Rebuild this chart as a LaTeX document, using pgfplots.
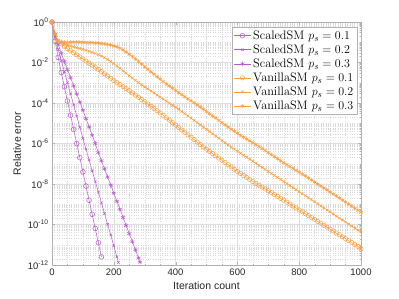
\documentclass[border=0pt]{standalone}
\usepackage{pgfplots}
\pgfplotsset{compat=1.18}
\usepackage{fontspec}
\newfontfamily\hv{Liberation Sans}
\definecolor{pur}{RGB}{185,90,205}
\definecolor{org}{RGB}{255,158,60}
\begin{document}
\begin{tikzpicture}
\begin{axis}[
  scale only axis, width=309pt, height=243pt,
  xmin=0, xmax=1000, ymin=1e-12, ymax=1,
  ymode=log,
  xtick={0,200,400,600,800,1000},
  minor x tick num=3,
  ytick={1e-12,1e-10,1e-8,1e-6,1e-4,1e-2,1},
  yticklabels={{\hv 10\textsuperscript{-12}},{\hv 10\textsuperscript{-10}},{\hv 10\textsuperscript{-8}},{\hv 10\textsuperscript{-6}},{\hv 10\textsuperscript{-4}},{\hv 10\textsuperscript{-2}},{\hv 10\textsuperscript{0}}},
  minor ytick={2e-12,3e-12,4e-12,5e-12,6e-12,7e-12,8e-12,9e-12,1e-11,2e-11,3e-11,4e-11,5e-11,6e-11,7e-11,8e-11,9e-11,
    2e-10,3e-10,4e-10,5e-10,6e-10,7e-10,8e-10,9e-10,1e-9,2e-9,3e-9,4e-9,5e-9,6e-9,7e-9,8e-9,9e-9,
    2e-8,3e-8,4e-8,5e-8,6e-8,7e-8,8e-8,9e-8,1e-7,2e-7,3e-7,4e-7,5e-7,6e-7,7e-7,8e-7,9e-7,
    2e-6,3e-6,4e-6,5e-6,6e-6,7e-6,8e-6,9e-6,1e-5,2e-5,3e-5,4e-5,5e-5,6e-5,7e-5,8e-5,9e-5,
    2e-4,3e-4,4e-4,5e-4,6e-4,7e-4,8e-4,9e-4,1e-3,2e-3,3e-3,4e-3,5e-3,6e-3,7e-3,8e-3,9e-3,
    2e-2,3e-2,4e-2,5e-2,6e-2,7e-2,8e-2,9e-2,1e-1,2e-1,3e-1,4e-1,5e-1,6e-1,7e-1,8e-1,9e-1},
  grid=both,
  major grid style={gray!25, line width=0.4pt},
  minor grid style={gray!30, dotted, line width=0.4pt},
  axis line style={gray!60},
  tick style={gray!60},
  major tick length=3pt, minor tick length=1.5pt,
  tick align=inside,
  xticklabel style={font=\hv\fontsize{9.5}{11}\selectfont, text=black!85},
  yticklabel style={font=\fontsize{9.5}{11}\selectfont, text=black!85},
  /pgf/number format/assume math mode=true,
  /pgf/number format/1000 sep={},
  xlabel={\hv Iteration count}, ylabel={\hv Relative error},
  label style={font=\fontsize{10.5}{12}\selectfont, text=black!85},
  legend style={at={(rel axis cs:0.987,0.979)}, anchor=north east, draw=gray!60,
    font=\fontsize{12.3}{14.5}\selectfont, inner sep=1.5pt, row sep=0.3pt,
    nodes={inner ysep=1.8pt}},
  legend image post style={},
  legend cell align=left,
  every axis plot/.append style={line width=0.5pt},
]
\coordinate (axbl) at (rel axis cs:0,0);
% ScaledSM p=0.1
\addplot[pur, mark=o, mark size=2.4pt] table[x=it, y expr={10^(-\thisrow{d})}] {
it d
0 0
10 0.95
20 1.75
30 2.5
40 3.2
50 3.9
60 4.6
70 5.3
80 6.0
90 6.7
100 7.4
110 8.1
120 8.8
130 9.5
140 10.2
150 10.9
160 11.6
};
\addlegendentry{ScaledSM $p_s = 0.1$}
% ScaledSM p=0.2
\addplot[pur, mark=x, mark size=1.8pt] table[x=it, y expr={10^(-\thisrow{d})}] {
it d
0 0
10 0.75
20 1.35
30 1.9
40 2.45
50 3.0
60 3.55
70 4.1
80 4.65
90 5.2
100 5.75
110 6.28
120 6.81
130 7.34
140 7.87
150 8.4
160 8.93
170 9.46
180 9.99
190 10.52
200 11.05
210 11.6
215 11.88
};
\addlegendentry{ScaledSM $p_s = 0.2$}
% ScaledSM p=0.3
\addplot[pur, mark=asterisk, mark size=2.3pt] table[x=it, y expr={10^(-\thisrow{d})}] {
it d
0 0
10 0.6
20 1.1
30 1.55
40 1.95
50 2.35
60 2.75
70 3.15
80 3.55
90 3.95
100 4.35
110 4.77
120 5.18
130 5.59
140 6.0
150 6.45
160 6.85
170 7.25
180 7.65
190 8.05
200 8.45
210 8.85
220 9.25
230 9.65
240 10.05
250 10.45
260 10.85
270 11.25
280 11.66
285 11.86
};
\addlegendentry{ScaledSM $p_s = 0.3$}
% VanillaSM p=0.1
\addplot[org, mark=o, mark size=2.2pt] table[x=it, y expr={10^(-\thisrow{d})}] {
it d
0 0
10 0.70
20 0.95
30 1.08
40 1.20
50 1.32
60 1.42
70 1.52
80 1.62
90 1.72
100 1.83
110 1.93
120 2.03
130 2.13
140 2.23
150 2.34
160 2.45
170 2.56
180 2.67
190 2.78
200 2.89
210 2.99
220 3.09
230 3.19
240 3.29
250 3.39
260 3.50
270 3.61
280 3.72
290 3.83
300 3.94
310 4.05
320 4.16
330 4.27
340 4.38
350 4.49
360 4.61
370 4.73
380 4.85
390 4.97
400 5.09
410 5.21
420 5.33
430 5.45
440 5.57
450 5.69
460 5.81
470 5.93
480 6.05
490 6.17
500 6.28
510 6.39
520 6.50
530 6.61
540 6.72
550 6.83
560 6.94
570 7.05
580 7.16
590 7.27
600 7.38
610 7.48
620 7.58
630 7.68
640 7.78
650 7.88
660 7.97
670 8.06
680 8.15
690 8.24
700 8.33
710 8.42
720 8.52
730 8.61
740 8.71
750 8.80
760 8.90
770 8.99
780 9.09
790 9.18
800 9.28
810 9.37
820 9.47
830 9.56
840 9.66
850 9.75
860 9.85
870 9.94
880 10.04
890 10.13
900 10.23
910 10.32
920 10.42
930 10.51
940 10.61
950 10.70
960 10.80
970 10.89
980 10.99
990 11.08
1000 11.20
};
\addlegendentry{VanillaSM $p_s = 0.1$}
% VanillaSM p=0.2
\addplot[org, mark=x, mark size=1.8pt] table[x=it, y expr={10^(-\thisrow{d})}] {
it d
0 0
10 0.62
20 0.92
30 1.03
40 1.10
50 1.15
60 1.19
70 1.23
80 1.27
90 1.31
100 1.35
110 1.40
120 1.45
130 1.50
140 1.55
150 1.61
160 1.68
170 1.76
180 1.85
190 1.95
200 2.05
210 2.17
220 2.29
230 2.41
240 2.53
250 2.65
260 2.77
270 2.88
280 2.99
290 3.10
300 3.21
310 3.31
320 3.41
330 3.51
340 3.61
350 3.71
360 3.81
370 3.91
380 4.01
390 4.11
400 4.21
410 4.31
420 4.42
430 4.53
440 4.64
450 4.75
460 4.86
470 4.97
480 5.08
490 5.19
500 5.30
510 5.41
520 5.52
530 5.63
540 5.74
550 5.85
560 5.96
570 6.07
580 6.18
590 6.28
600 6.38
610 6.48
620 6.58
630 6.68
640 6.78
650 6.88
660 6.98
670 7.08
680 7.18
690 7.28
700 7.38
710 7.48
720 7.58
730 7.68
740 7.78
750 7.88
760 7.98
770 8.08
780 8.18
790 8.28
800 8.38
810 8.48
820 8.58
830 8.68
840 8.78
850 8.88
860 8.98
870 9.08
880 9.18
890 9.28
900 9.38
910 9.48
920 9.58
930 9.68
940 9.78
950 9.88
960 9.98
970 10.08
980 10.18
990 10.28
1000 10.38
};
\addlegendentry{VanillaSM $p_s = 0.2$}
% VanillaSM p=0.3
\addplot[org, mark=asterisk, mark size=2.1pt] table[x=it, y expr={10^(-\thisrow{d})}] {
it d
0 0
10 0.60
20 0.92
30 0.98
40 1.00
50 1.01
60 1.00
70 0.99
80 0.99
90 1.00
100 1.00
110 1.01
120 1.01
130 1.02
140 1.03
150 1.04
160 1.06
170 1.08
180 1.11
190 1.14
200 1.18
210 1.23
220 1.30
230 1.38
240 1.48
250 1.59
260 1.70
270 1.82
280 1.95
290 2.08
300 2.21
310 2.34
320 2.46
330 2.58
340 2.70
350 2.82
360 2.94
370 3.05
380 3.16
390 3.27
400 3.38
410 3.49
420 3.59
430 3.69
440 3.79
450 3.89
460 3.99
470 4.09
480 4.20
490 4.31
500 4.42
510 4.53
520 4.64
530 4.75
540 4.86
550 4.97
560 5.08
570 5.19
580 5.30
590 5.40
600 5.50
610 5.60
620 5.69
630 5.78
640 5.87
650 5.96
660 6.05
670 6.15
680 6.25
690 6.35
700 6.45
710 6.55
720 6.65
730 6.75
740 6.85
750 6.95
760 7.04
770 7.14
780 7.23
790 7.33
800 7.42
810 7.52
820 7.61
830 7.71
840 7.80
850 7.90
860 8.00
870 8.10
880 8.20
890 8.30
900 8.40
910 8.50
920 8.60
930 8.70
940 8.80
950 8.90
960 9.00
970 9.10
980 9.20
990 9.30
1000 9.40
};
\addlegendentry{VanillaSM $p_s = 0.3$}
\end{axis}
\pgfresetboundingbox
\path (axbl) ++(-52pt,-34pt) rectangle ++(399pt,299pt);
\end{tikzpicture}
\end{document}
